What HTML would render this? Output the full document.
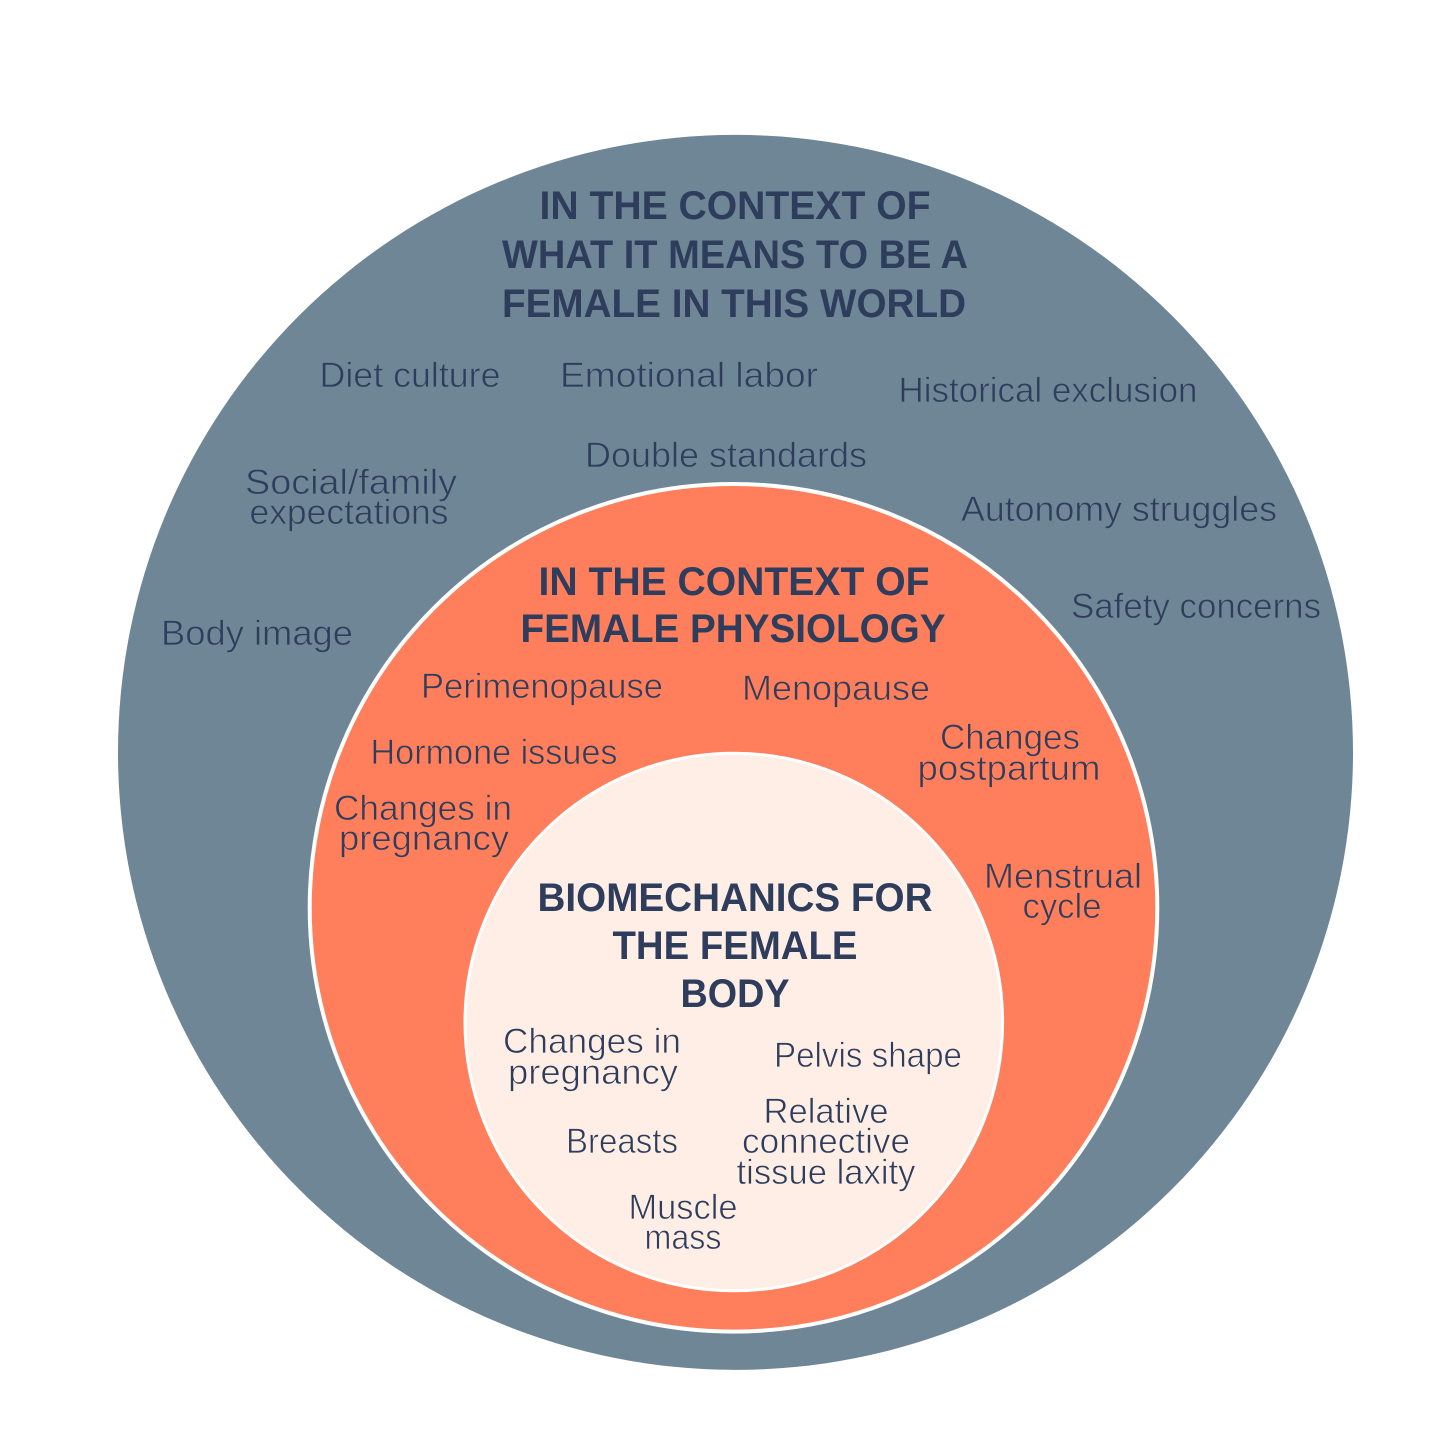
<!DOCTYPE html>
<html>
<head>
<meta charset="utf-8">
<style>
html,body{margin:0;padding:0;background:#fff;width:1440px;height:1440px;overflow:hidden}
svg{display:block}
text{font-family:"Liberation Sans",sans-serif;text-anchor:middle;fill:#2e3d5c}
.h{font-weight:700;font-size:40px}
.t{font-size:35px;font-weight:400;stroke-width:.7px}
.a{stroke:#6f8696}
.b{stroke:#ff7f5c}
.c{stroke:#ffeee5}
</style>
</head>
<body>
<svg width="1440" height="1440" viewBox="0 0 1440 1440">
<circle cx="735.500" cy="752.400" r="617.500" fill="#6f8696"/>
<circle cx="733.500" cy="907.800" r="423.800" fill="#ff7f5c" stroke="#fff" stroke-width="4"/>
<circle cx="733.800" cy="1022" r="268.800" fill="#ffeee5" stroke="#fff" stroke-width="3"/>

<text class="h" x="735" y="219" textLength="391" lengthAdjust="spacingAndGlyphs">IN THE CONTEXT OF</text>
<text class="h" x="735" y="268" textLength="466" lengthAdjust="spacingAndGlyphs">WHAT IT MEANS TO BE A</text>
<text class="h" x="734" y="317" textLength="464" lengthAdjust="spacingAndGlyphs">FEMALE IN THIS WORLD</text>

<text class="t a" x="410" y="387" textLength="181" lengthAdjust="spacingAndGlyphs">Diet culture</text>
<text class="t a" x="689" y="387" textLength="258" lengthAdjust="spacingAndGlyphs">Emotional labor</text>
<text class="t a" x="1048" y="402" textLength="299" lengthAdjust="spacingAndGlyphs">Historical exclusion</text>
<text class="t a" x="726" y="467" textLength="282" lengthAdjust="spacingAndGlyphs">Double standards</text>
<text class="t a" x="351" y="494" textLength="212" lengthAdjust="spacingAndGlyphs">Social/family</text>
<text class="t a" x="349" y="524" textLength="199" lengthAdjust="spacingAndGlyphs">expectations</text>
<text class="t a" x="1119" y="521" textLength="316" lengthAdjust="spacingAndGlyphs">Autonomy struggles</text>
<text class="t a" x="1196" y="618" textLength="250" lengthAdjust="spacingAndGlyphs">Safety concerns</text>
<text class="t a" x="257" y="645" textLength="192" lengthAdjust="spacingAndGlyphs">Body image</text>

<text class="h" x="734" y="595" textLength="391" lengthAdjust="spacingAndGlyphs">IN THE CONTEXT OF</text>
<text class="h" x="733" y="642" textLength="425" lengthAdjust="spacingAndGlyphs">FEMALE PHYSIOLOGY</text>

<text class="t b" x="542" y="698" textLength="242" lengthAdjust="spacingAndGlyphs">Perimenopause</text>
<text class="t b" x="836" y="700" textLength="188" lengthAdjust="spacingAndGlyphs">Menopause</text>
<text class="t b" x="1010" y="749" textLength="140" lengthAdjust="spacingAndGlyphs">Changes</text>
<text class="t b" x="1009" y="780" textLength="183" lengthAdjust="spacingAndGlyphs">postpartum</text>
<text class="t b" x="494" y="764" textLength="247" lengthAdjust="spacingAndGlyphs">Hormone issues</text>
<text class="t b" x="423" y="820" textLength="178" lengthAdjust="spacingAndGlyphs">Changes in</text>
<text class="t b" x="424" y="850" textLength="170" lengthAdjust="spacingAndGlyphs">pregnancy</text>
<text class="t b" x="1063" y="888" textLength="158" lengthAdjust="spacingAndGlyphs">Menstrual</text>
<text class="t b" x="1062" y="918" textLength="79" lengthAdjust="spacingAndGlyphs">cycle</text>

<text class="h" x="735" y="911" textLength="395" lengthAdjust="spacingAndGlyphs">BIOMECHANICS FOR</text>
<text class="h" x="735" y="959" textLength="245" lengthAdjust="spacingAndGlyphs">THE FEMALE</text>
<text class="h" x="735" y="1007" textLength="109" lengthAdjust="spacingAndGlyphs">BODY</text>

<text class="t c" x="592" y="1053" textLength="178" lengthAdjust="spacingAndGlyphs">Changes in</text>
<text class="t c" x="593" y="1084" textLength="170" lengthAdjust="spacingAndGlyphs">pregnancy</text>
<text class="t c" x="868" y="1067" textLength="188" lengthAdjust="spacingAndGlyphs">Pelvis shape</text>
<text class="t c" x="826" y="1123" textLength="125" lengthAdjust="spacingAndGlyphs">Relative</text>
<text class="t c" x="826" y="1153" textLength="168" lengthAdjust="spacingAndGlyphs">connective</text>
<text class="t c" x="826" y="1184" textLength="179" lengthAdjust="spacingAndGlyphs">tissue laxity</text>
<text class="t c" x="622" y="1153" textLength="112" lengthAdjust="spacingAndGlyphs">Breasts</text>
<text class="t c" x="683" y="1219" textLength="109" lengthAdjust="spacingAndGlyphs">Muscle</text>
<text class="t c" x="683" y="1249" textLength="77" lengthAdjust="spacingAndGlyphs">mass</text>
</svg>
</body>
</html>
